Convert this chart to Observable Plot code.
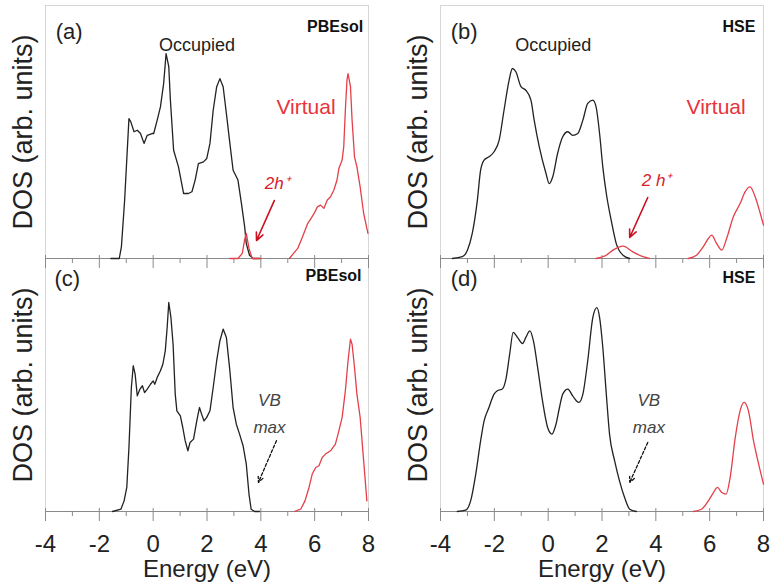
<!DOCTYPE html>
<html><head><meta charset="utf-8">
<script src="https://cdn.jsdelivr.net/npm/d3@7"></script>
<script src="https://cdn.jsdelivr.net/npm/@observablehq/plot@0.6"></script>
<style>
html,body{margin:0;padding:0;background:#fff;}
#chart{width:770px;height:588px;}
</style></head><body><div id="chart"></div>
<script>
// ---- categories ----
const functionals = ["PBEsol", "HSE"];
const rows = ["hole", "neutral"];
const majorTicks = [-4, -2, 0, 2, 4, 6, 8];
const minorTicks = [-3, -1, 1, 3, 5, 7];

// ---- DOS curves: [energy (eV), DOS (arb. units)] ----
// (a) PBEsol, 2h+
const aOccupied = [[-1.57,0],[-1.26,0],[-1.18,4.6],[-1.06,23],[-0.90,55.3],[-0.83,54.0],[-0.71,50.1],[-0.59,50.7],[-0.47,49.4],[-0.34,45.5],[-0.22,48.7],[-0.04,49.4],[0.02,49.4],[0.15,54.7],[0.27,59.9],[0.39,69.2],[0.48,81.0],[0.58,75.8],[0.64,62.6],[0.76,42.8],[0.94,36.2],[1.13,25.7],[1.31,25.7],[1.44,26.4],[1.56,31.0],[1.68,37.5],[1.87,38.2],[1.99,39.5],[2.11,45.5],[2.23,58.6],[2.36,67.9],[2.48,71.1],[2.60,67.9],[2.72,57.3],[2.85,45.5],[2.97,34.9],[3.15,31.0],[3.28,21.7],[3.40,12.5],[3.46,5.9],[3.58,1.3],[3.71,0],[3.95,0]];
const aHole = [[2.85,0],[3.15,0],[3.31,2.0],[3.40,7.5],[3.46,9.9],[3.51,7.0],[3.56,4.0],[3.68,0],[4.01,0]];
const aVirtual = [[5.06,0],[5.37,4.0],[5.55,8.6],[5.74,13.8],[5.86,15.8],[5.98,17.8],[6.10,20.4],[6.22,21.1],[6.34,19.8],[6.47,23.1],[6.59,24.4],[6.71,27.0],[6.83,31.0],[6.90,35.6],[7.02,38.9],[7.08,44.1],[7.14,58.6],[7.20,70.5],[7.24,73.1],[7.33,67.9],[7.39,54.7],[7.48,40.2],[7.57,36.2],[7.69,28.3],[7.82,17.8],[7.98,9.9]];
// (b) HSE, 2h+
const bOccupied = [[-3.56,0],[-3.19,0.7],[-3.00,3.3],[-2.82,9.9],[-2.63,23.1],[-2.51,34.9],[-2.38,38.9],[-2.20,40.2],[-2.01,42.2],[-1.82,46.8],[-1.64,58.6],[-1.45,70.5],[-1.33,75.1],[-1.20,73.8],[-1.01,67.9],[-0.83,66.5],[-0.64,62.6],[-0.52,54.7],[-0.33,44.1],[-0.08,33.6],[0.04,29.6],[0.17,32.3],[0.35,41.5],[0.54,48.1],[0.73,50.1],[0.91,48.7],[1.10,49.4],[1.29,54.7],[1.47,61.3],[1.66,62.6],[1.78,59.9],[1.91,49.4],[2.03,36.2],[2.16,25.7],[2.34,15.2],[2.53,5.9],[2.78,1.3],[3.03,0]];
const bHole = [[1.78,0],[2.16,1.3],[2.41,3.3],[2.78,4.9],[3.15,2.6],[3.52,0.7],[3.77,0]];
const bVirtual = [[5.20,0],[5.51,1.3],[5.76,4.6],[5.95,7.9],[6.07,9.2],[6.26,5.9],[6.45,3.3],[6.63,7.9],[6.88,16.5],[7.13,21.7],[7.32,26.4],[7.50,28.3],[7.69,24.4],[7.88,17.8],[8.00,13.2]];
// (c) PBEsol, neutral
const cOccupied = [[-1.51,0],[-1.20,0.9],[-1.08,4.2],[-0.98,9.5],[-0.90,25.3],[-0.81,49.0],[-0.74,57.6],[-0.67,54.3],[-0.59,45.7],[-0.49,48.4],[-0.40,49.7],[-0.32,47.0],[-0.22,48.4],[-0.10,50.3],[0,51.6],[0.06,50.3],[0.15,53.0],[0.27,55.6],[0.36,58.2],[0.45,63.5],[0.52,72.7],[0.58,82.6],[0.66,76.7],[0.74,66.1],[0.82,46.4],[0.88,39.8],[1.01,37.8],[1.10,33.2],[1.19,27.9],[1.29,24.0],[1.37,27.3],[1.50,28.6],[1.62,35.8],[1.72,41.1],[1.80,38.5],[1.89,35.8],[1.99,37.2],[2.11,39.8],[2.23,49.0],[2.36,59.6],[2.48,67.5],[2.60,72.1],[2.72,68.8],[2.85,55.6],[2.97,41.1],[3.09,34.5],[3.21,30.6],[3.34,26.0],[3.46,18.7],[3.56,6.9],[3.64,0.9],[3.77,0],[3.95,0]];
const cVirtual = [[5.24,0],[5.48,0.9],[5.64,4.2],[5.79,9.5],[5.91,14.8],[6.04,17.4],[6.16,18.1],[6.28,21.3],[6.40,22.7],[6.59,24.0],[6.77,26.6],[6.90,31.9],[7.02,37.2],[7.14,47.7],[7.24,59.6],[7.33,68.1],[7.39,66.1],[7.48,56.9],[7.57,46.4],[7.69,37.2],[7.82,20.0],[7.94,4.2]];
// (d) HSE, neutral
const dOccupied = [[-3.38,0],[-3.07,0.5],[-2.88,4.2],[-2.69,14.8],[-2.51,27.9],[-2.38,35.8],[-2.20,41.1],[-2.01,46.4],[-1.89,47.7],[-1.70,48.4],[-1.57,52.3],[-1.43,62.2],[-1.30,70.8],[-1.14,68.8],[-0.95,66.4],[-0.83,68.8],[-0.68,71.4],[-0.55,67.5],[-0.39,56.9],[-0.21,43.7],[-0.02,33.2],[0.14,30.6],[0.29,34.5],[0.42,41.1],[0.54,46.4],[0.73,48.4],[0.91,45.7],[1.14,43.1],[1.29,46.4],[1.47,59.6],[1.66,76.7],[1.81,80.6],[1.91,76.7],[2.03,64.8],[2.16,46.4],[2.28,30.6],[2.47,20.0],[2.65,12.1],[2.84,5.5],[3.03,0.9],[3.28,0]];
const dVirtual = [[5.39,0],[5.70,0.9],[5.95,4.2],[6.14,7.5],[6.29,9.5],[6.45,7.5],[6.61,6.9],[6.76,13.4],[6.95,29.2],[7.13,39.8],[7.28,43.1],[7.44,39.8],[7.63,27.9],[7.82,18.7],[8.00,10.8]];

// ---- text ----
const panelTags = ["(a)", "(b)", "(c)", "(d)"];
const yTitle = "DOS (arb. units)";
const xTitle = "Energy (eV)";

// ---- annotations (energy, DOS) ----
const tagAnchor = [[-3.62, 89.5], [-3.62, 89.5], [-3.67, 92], [-3.62, 92]];
const methodAnchor = [[7.80, 91.5], [7.70, 91.5], [7.74, 93], [7.70, 92.5]];
const occupiedNotes = [["PBEsol", 1.63, 84.2], ["HSE", 0.19, 84.2]];
const virtualNotes = [["PBEsol", 5.68, 59.7], ["HSE", 6.24, 59.7]];
const holeNotes = [["PBEsol", "2h⁺", 4.61, 29.6], ["HSE", "2 h⁺", 4.03, 30.8]];
const holeArrows = [["PBEsol", 4.50, 22.9, 3.84, 7.1], ["HSE", 3.70, 24.1, 3.03, 8.3]];
const vbNotes = [["PBEsol", 4.32, 39.9], ["HSE", 3.74, 39.9]];
const vbArrows = [["PBEsol", 4.58, 28, 3.91, 11.5], ["HSE", 3.70, 27.3, 3.03, 11.5]];

// ---- build tables ----
const series = [
  ["PBEsol","hole","occ",aOccupied],["PBEsol","hole","virt",aHole],["PBEsol","hole","virt2",aVirtual],
  ["HSE","hole","occ",bOccupied],["HSE","hole","virt",bHole],["HSE","hole","virt2",bVirtual],
  ["PBEsol","neutral","occ",cOccupied],["PBEsol","neutral","virt2",cVirtual],
  ["HSE","neutral","occ",dOccupied],["HSE","neutral","virt2",dVirtual]
];
const pts = series.flatMap(([fx, fy, kind, arr]) =>
  arr.map(([E, D]) => ({fx, fy, kind, key: fx + fy + kind, E, D, red: kind !== "occ"})));
const cells = [];
rows.forEach(fy => functionals.forEach(fx => cells.push({fx, fy})));
cells.forEach((c, i) => {
  c.tag = panelTags[i]; c.tx = tagAnchor[i][0]; c.ty = tagAnchor[i][1];
  c.mx = methodAnchor[i][0]; c.my = methodAnchor[i][1];
});
const bottomCells = cells.filter(c => c.fy === "neutral");

const black = "#222";
const red = "#e4404a";
const font = "'Liberation Sans', Arial, sans-serif";

const chart = Plot.plot({
  width: 770, height: 588,
  marginLeft: 44, marginRight: 6, marginTop: 5, marginBottom: 77,
  style: {fontFamily: font, background: "#fff", overflow: "visible"},
  x: {domain: [-4, 8], axis: null},
  y: {domain: [0, 100], axis: null},
  fx: {domain: functionals, paddingInner: 0.1818, paddingOuter: 0, axis: null},
  fy: {domain: rows, paddingInner: 0, paddingOuter: 0, axis: null},
  marks: [
    Plot.frame({stroke: "#d6d6d6", strokeWidth: 1}),
    Plot.ruleY([0], {stroke: "#8a8a8a", strokeWidth: 1}),
    Plot.tickX(majorTicks, {x: d => d, insetTop: 250, insetBottom: -10, stroke: "#8a8a8a"}),
    Plot.tickX(minorTicks, {x: d => d, insetTop: 253, insetBottom: -5, stroke: "#8a8a8a"}),
    Plot.axisX(majorTicks, {tickSize: 0, tickPadding: 23, fontSize: 24, tickFormat: d => String(d), label: null, fill: "#222"}),
    Plot.text(bottomCells, {fx: "fx", fy: "fy", text: () => xTitle, frameAnchor: "bottom", lineAnchor: "top", dy: 48, fontSize: 24, fill: "#222"}),
    Plot.text(cells, {fx: "fx", fy: "fy", text: () => yTitle, frameAnchor: "left", textAnchor: "middle", lineAnchor: "middle", rotate: -90, dx: -22, fontSize: 27, fill: "#222"}),
    // curves
    Plot.line(pts.filter(d => d.fx === "PBEsol"), {x: "E", y: "D", z: "key", fx: "fx", fy: "fy",
      stroke: d => d.red ? red : black, strokeWidth: 1.3, curve: "linear"}),
    Plot.line(pts.filter(d => d.fx === "HSE"), {x: "E", y: "D", z: "key", fx: "fx", fy: "fy",
      stroke: d => d.red ? red : black, strokeWidth: 1.3, curve: "monotone-x"}),
    // panel tags and method names
    Plot.text(cells, {fx: "fx", fy: "fy", x: "tx", y: "ty", text: "tag", textAnchor: "start", fontSize: 22, fill: "#222"}),
    Plot.text(cells, {fx: "fx", fy: "fy", x: "mx", y: "my", text: "fx", textAnchor: "end", fontSize: 16, fontWeight: "bold", fill: "#111"}),
    // Occupied / Virtual
    Plot.text(occupiedNotes, {fx: d => d[0], fy: () => "hole", x: d => d[1], y: d => d[2], text: () => "Occupied", fontSize: 18, fill: "#222", letterSpacing: "1.2px"}),
    Plot.text(virtualNotes, {fx: d => d[0], fy: () => "hole", x: d => d[1], y: d => d[2], text: () => "Virtual", fontSize: 21, fill: "#e8333c"}),
    // 2h+
    Plot.text(holeNotes, {fx: d => d[0], fy: () => "hole", x: d => d[2], y: d => d[3], text: d => d[1], fontSize: 17, fontStyle: "italic", fill: "#d8202c"}),
    Plot.arrow(holeArrows, {fx: d => d[0], fy: () => "hole", x1: d => d[1], y1: d => d[2], x2: d => d[3], y2: d => d[4], stroke: "#cc1020", strokeWidth: 1.6, headLength: 8, headAngle: 50}),
    // VB max
    Plot.text(vbNotes, {fx: d => d[0], fy: () => "neutral", x: d => d[1], y: d => d[2], text: () => "VB\nmax", lineHeight: 1.6, fontSize: 17, fontStyle: "italic", fill: "#444", letterSpacing: "0.8px"}),
    Plot.arrow(vbArrows, {fx: d => d[0], fy: () => "neutral", x1: d => d[1], y1: d => d[2], x2: d => d[3], y2: d => d[4], stroke: "#111", strokeWidth: 1.3, strokeDasharray: "3,2", headLength: 7, headAngle: 50})
  ]
});
document.getElementById("chart").appendChild(chart);
</script></body></html>
